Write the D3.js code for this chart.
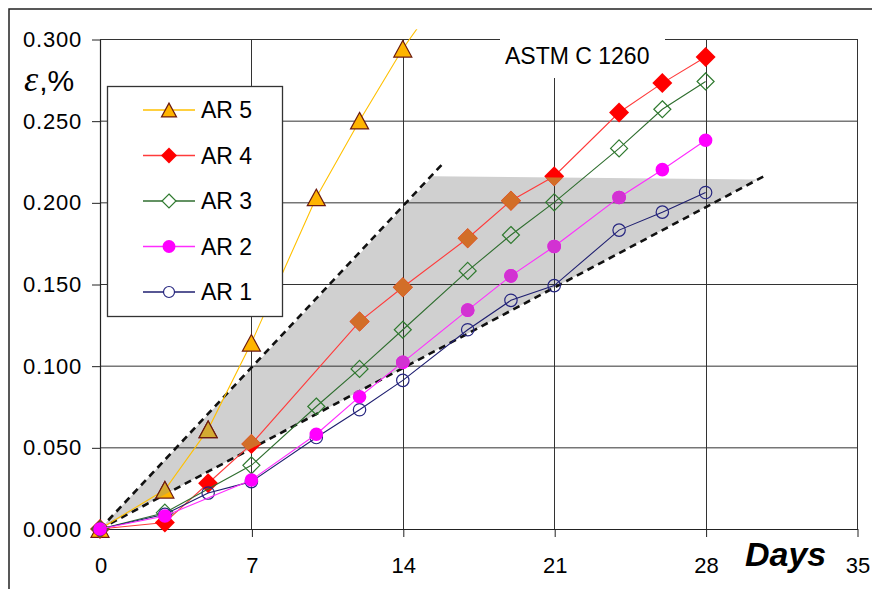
<!DOCTYPE html>
<html><head><meta charset="utf-8">
<script src="https://cdn.jsdelivr.net/npm/d3@7"></script>
<style>body{margin:0;background:#fff}svg{display:block}</style></head>
<body>
<script>
// ---- data ----
const xTicks = [0, 7, 14, 21, 28, 35];
const yTicks = [0, 0.05, 0.1, 0.15, 0.2, 0.25, 0.3];
const seriesNames = ["AR 5", "AR 4", "AR 3", "AR 2", "AR 1"];
const daysAR5 = [0, 3, 5, 7, 10, 12, 14, 17];
const valsAR5 = [0, 0.024, 0.061, 0.114, 0.203, 0.250, 0.294, 0.350];
const daysAR4 = [0, 3, 5, 7, 12, 14, 17, 19, 21, 24, 26, 28];
const valsAR4 = [0, 0.004, 0.028, 0.052, 0.127, 0.148, 0.178, 0.201, 0.216, 0.255, 0.273, 0.289];
const daysAR3 = [0, 3, 7, 10, 12, 14, 17, 19, 21, 24, 26, 28];
const valsAR3 = [0, 0.010, 0.039, 0.075, 0.098, 0.122, 0.158, 0.180, 0.200, 0.233, 0.257, 0.274];
const daysAR2 = [0, 3, 7, 10, 12, 14, 17, 19, 21, 24, 26, 28];
const valsAR2 = [0, 0.008, 0.030, 0.058, 0.081, 0.102, 0.134, 0.155, 0.173, 0.203, 0.220, 0.238];
const daysAR1 = [0, 3, 5, 7, 10, 12, 14, 17, 19, 21, 24, 26, 28];
const valsAR1 = [0, 0.009, 0.022, 0.029, 0.056, 0.073, 0.091, 0.122, 0.140, 0.149, 0.183, 0.194, 0.206];
const bandUpperLine = [[0, 0], [15.8, 0.223]];
const bandLowerLine = [[0, 0], [30.7, 0.216]];
const bandPolygon = [[0, 0], [15.4, 0.216], [30.4, 0.214]];
const noteText = "ASTM C 1260";

// ---- layout ----
const W = 872, H = 589;
const x = d3.scaleLinear().domain([0, 35]).range([100, 857]);
const y = d3.scaleLinear().domain([0, 0.3]).range([529, 39]);
const FONT = "'Liberation Sans', Arial, sans-serif";

const svg = d3.select("body").append("svg").attr("width", W).attr("height", H);
svg.append("rect").attr("x", 9).attr("y", 9).attr("width", 900).attr("height", 600)
  .attr("fill", "#fff").attr("stroke", "#222").attr("stroke-width", 1.5);

const defs = svg.append("defs");
const polyPath = d3.line().x(d => x(d[0])).y(d => y(d[1]));
defs.append("clipPath").attr("id", "bandClip").append("path")
  .attr("d", polyPath(bandPolygon) + "Z");
defs.append("clipPath").attr("id", "plotClip").append("rect")
  .attr("x", x(0)).attr("y", y(0.306)).attr("width", x(35) - x(0)).attr("height", y(0) - y(0.306) + 12);

// shaded band
svg.append("path").attr("d", polyPath(bandPolygon) + "Z").attr("fill", "#d0d0d0");

// gridlines
const grid = svg.append("g").attr("stroke", "#333").attr("stroke-width", 1);
grid.selectAll(".hg").data(yTicks.filter(d => d > 0)).join("line")
  .attr("x1", x(0)).attr("x2", x(35)).attr("y1", d => y(d) + 0.5).attr("y2", d => y(d) + 0.5);
grid.selectAll(".vg").data(xTicks.filter(d => d > 0)).join("line")
  .attr("y1", y(0.3)).attr("y2", y(0)).attr("x1", d => Math.round(x(d)) + 0.5).attr("x2", d => Math.round(x(d)) + 0.5);

// axes
const yAxis = svg.append("g").attr("transform", `translate(${x(0)},0.5)`)
  .call(d3.axisLeft(y).tickValues(yTicks).tickFormat(d3.format(".3f")).tickSize(8).tickSizeOuter(0).tickPadding(10));
const xAxis = svg.append("g").attr("transform", `translate(0.5,${y(0)})`)
  .call(d3.axisBottom(x).tickValues(xTicks).tickFormat(d3.format("d")).tickSize(8).tickSizeOuter(0).tickPadding(20));
[yAxis, xAxis].forEach(a => {
  a.select(".domain").attr("stroke", "#222").attr("stroke-width", 1.2);
  a.selectAll(".tick line").attr("stroke", "#222");
  a.selectAll("text").attr("font-family", FONT).attr("font-size", 22).attr("fill", "#000");
});
yAxis.selectAll("text").attr("letter-spacing", "0.8px");

// note label with white box
svg.append("rect").attr("x", 500).attr("y", 28).attr("width", 165).attr("height", 50).attr("fill", "#fff");
svg.append("text").attr("x", 505).attr("y", 64).attr("font-family", FONT).attr("font-size", 23)
  .text(noteText);

// dashed envelope lines
[bandUpperLine, bandLowerLine].forEach(l => {
  svg.append("path").attr("d", polyPath(l)).attr("fill", "none").attr("stroke", "#111")
    .attr("stroke-width", 2.6).attr("stroke-dasharray", "7,5");
});

// marker shapes
function tri(s) { const w = s, h = s * 0.92; return `M0,${-h / 2}L${w / 2},${h / 2}L${-w / 2},${h / 2}Z`; }
function dia(r) { return `M0,${-r}L${r},0L0,${r}L${-r},0Z`; }
function circ(r) { return `M${r},0A${r},${r} 0 1,1 ${-r},0A${r},${r} 0 1,1 ${r},0Z`; }

const series = [
  { name: seriesNames[0], days: daysAR5, vals: valsAR5, line: "#ffc000", shape: tri(18), legShape: tri(15), fill: "#ffb400", shaded: "#d4aa32", stroke: "#6b1a10", sw: 1.2 },
  { name: seriesNames[1], days: daysAR4, vals: valsAR4, line: "#ff3b3b", shape: dia(10), legShape: dia(8), fill: "#ff0000", shaded: "#d26e28", stroke: "none", sw: 0 },
  { name: seriesNames[2], days: daysAR3, vals: valsAR3, line: "#2f6e2f", shape: dia(8.5), legShape: dia(7), fill: "none", shaded: null, stroke: "#2f7a2f", sw: 1.2 },
  { name: seriesNames[4], days: daysAR1, vals: valsAR1, line: "#1f1f70", shape: circ(6.2), legShape: circ(5.5), fill: "none", shaded: null, stroke: "#262680", sw: 1.2 },
  { name: seriesNames[3], days: daysAR2, vals: valsAR2, line: "#ff2cff", shape: circ(6.8), legShape: circ(6.5), fill: "#ff00ff", shaded: "#d232d2", stroke: "none", sw: 0 },
];

const lineGen = d3.line().x(d => x(d[0])).y(d => y(d[1]));
series.forEach(s => {
  const pts = s.days.map((d, i) => [d, s.vals[i]]);
  svg.append("path").attr("d", lineGen(pts)).attr("fill", "none").attr("stroke", s.line)
    .attr("stroke-width", 1.1).attr("clip-path", "url(#plotClip)");
  svg.append("g").selectAll("path").data(pts).join("path")
    .attr("transform", d => `translate(${x(d[0])},${y(d[1])})`)
    .attr("d", s.shape).attr("fill", s.fill).attr("stroke", s.stroke).attr("stroke-width", s.sw);
  if (s.shaded) {
    svg.append("g").attr("clip-path", "url(#bandClip)").selectAll("path").data(pts).join("path")
      .attr("transform", d => `translate(${x(d[0])},${y(d[1])})`)
      .attr("d", s.shape).attr("fill", s.shaded).attr("stroke", s.stroke).attr("stroke-width", s.sw);
  }
});

// legend
const leg = svg.append("g");
leg.append("rect").attr("x", 107.5).attr("y", 86.5).attr("width", 175).attr("height", 230)
  .attr("fill", "#fff").attr("stroke", "#333").attr("stroke-width", 1.3);
const legOrder = [0, 1, 2, 4, 3];
legOrder.forEach((si, i) => {
  const s = series[si];
  const cy = 110 + i * 45.5;
  leg.append("line").attr("x1", 143).attr("x2", 195).attr("y1", cy).attr("y2", cy)
    .attr("stroke", s.line).attr("stroke-width", 1.4);
  leg.append("path").attr("transform", `translate(169,${cy})`).attr("d", s.legShape)
    .attr("fill", s.fill === "none" ? "#fff" : s.fill).attr("stroke", s.stroke).attr("stroke-width", s.sw);
  leg.append("text").attr("x", 201).attr("y", cy + 8).attr("font-family", FONT).attr("font-size", 23)
    .text(s.name);
});

// axis titles
const yt = svg.append("text").attr("x", 24).attr("y", 91).attr("font-family", FONT).attr("font-size", 30);
yt.append("tspan").attr("font-family", "'Liberation Serif', 'DejaVu Serif', serif").attr("font-style", "italic")
  .attr("font-size", 36).text("ε");
yt.append("tspan").attr("dx", 1).text(",%");
svg.append("text").attr("x", 745).attr("y", 566).attr("font-family", FONT).attr("font-size", 34)
  .attr("font-weight", "bold").attr("font-style", "italic").text("Days");
</script>
</body></html>
